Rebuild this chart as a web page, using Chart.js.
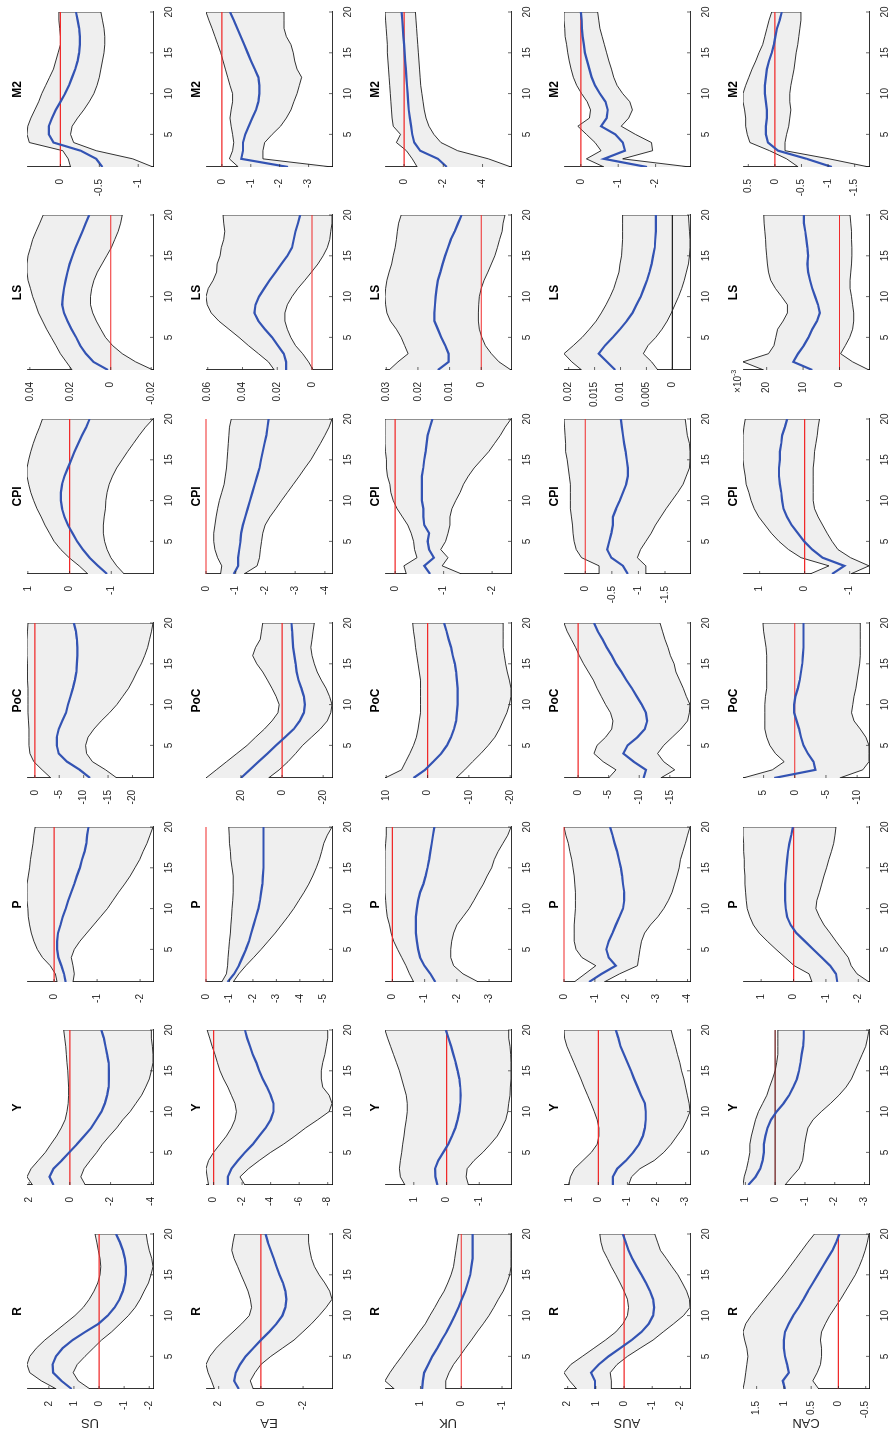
<!DOCTYPE html>
<html>
<head>
<meta charset="utf-8">
<script src="https://cdn.jsdelivr.net/npm/chart.js@4.4.1/dist/chart.umd.min.js"></script>
<style>
html, body { margin: 0; padding: 0; background: #fff; overflow: hidden; }
body { width: 892px; height: 1449px; position: relative; }
/* figure is laid out landscape, then turned a quarter left like the source */
#fig { position: absolute; left: 0; top: 0; width: 1449px; height: 892px;
       transform-origin: 0 0; transform: translate(0, 1449px) rotate(-90deg); }
.cell { position: absolute; }
</style>
</head>
<body>
<div id="fig"></div>
<script>
// ==========================================
// IRF grid: 5 economies x 7 variables
// mid = median response, hi/lo = band edges
// ==========================================

const HORIZON = [1,2,3,4,5,6,7,8,9,10,11,12,13,14,15,16,17,18,19,20];
const HORIZON_TICKS = [5, 10, 15, 20];
const COUNTRIES = ['US', 'EA', 'UK', 'AUS', 'CAN'];
const VARIABLES = ['R', 'Y', 'P', 'PoC', 'CPI', 'LS', 'M2'];

// --- US ---
const US_R_MID = [1.09,1.5,1.83,1.85,1.72,1.45,1.05,0.55,0.02,-0.35,-0.62,-0.82,-0.95,-1.03,-1.07,-1.07,-1.03,-0.95,-0.83,-0.68];
const US_R_HI  = [1.7,2.3,2.76,2.87,2.76,2.5,2.16,1.76,1.36,0.96,0.63,0.39,0.2,0.05,-0.04,-0.07,-0.04,0.03,0.09,0.16];
const US_R_LO  = [0.36,0.83,1.03,0.87,0.56,0.23,-0.1,-0.5,-0.84,-1.17,-1.44,-1.64,-1.8,-1.97,-2.07,-2.15,-2.1,-2.0,-1.93,-1.88];
const US_Y_MID = [0.8,1.0,0.8,0.4,0.03,-0.35,-0.7,-1.05,-1.3,-1.55,-1.72,-1.83,-1.9,-1.92,-1.92,-1.9,-1.83,-1.75,-1.67,-1.55];
const US_Y_HI  = [1.83,2.1,1.9,1.55,1.2,0.93,0.65,0.42,0.23,0.14,0.08,0.06,0.06,0.08,0.1,0.14,0.17,0.2,0.25,0.3];
const US_Y_LO  = [-0.76,-0.54,-0.7,-1.0,-1.32,-1.6,-1.94,-2.3,-2.6,-2.96,-3.24,-3.52,-3.72,-3.9,-4.0,-4.08,-4.08,-4.05,-4.0,-4.0];
const US_P_MID = [-0.27,-0.23,-0.17,-0.1,-0.07,-0.07,-0.09,-0.15,-0.2,-0.27,-0.33,-0.4,-0.47,-0.53,-0.6,-0.65,-0.71,-0.75,-0.77,-0.8];
const US_P_HI  = [-0.07,-0.03,0.09,0.27,0.39,0.47,0.53,0.57,0.6,0.61,0.63,0.63,0.63,0.6,0.57,0.55,0.52,0.49,0.47,0.44];
const US_P_LO  = [-0.44,-0.47,-0.44,-0.4,-0.47,-0.6,-0.76,-0.92,-1.08,-1.24,-1.37,-1.5,-1.64,-1.77,-1.88,-1.99,-2.07,-2.16,-2.23,-2.3];
const US_POC_MID = [-11.3,-9.2,-6.6,-4.9,-4.5,-4.5,-4.9,-5.6,-6.4,-6.8,-7.3,-7.8,-8.2,-8.5,-8.6,-8.7,-8.7,-8.6,-8.4,-8.0];
const US_POC_HI  = [-3.3,-1.5,0.2,1.0,1.2,1.2,1.2,1.3,1.4,1.4,1.4,1.4,1.5,1.5,1.5,1.6,1.6,1.6,1.5,1.4];
const US_POC_LO  = [-16.8,-14.5,-11.8,-10.6,-10.4,-10.9,-12.1,-13.6,-15.3,-16.8,-18.0,-19.2,-20.1,-20.9,-21.8,-22.5,-23.1,-23.5,-23.9,-24.2];
const US_CPI_MID = [-0.9,-0.68,-0.48,-0.32,-0.18,-0.07,0.04,0.12,0.18,0.21,0.21,0.18,0.12,0.04,-0.04,-0.12,-0.21,-0.3,-0.4,-0.48];
const US_CPI_HI  = [-0.44,-0.23,0.01,0.21,0.37,0.48,0.59,0.68,0.78,0.86,0.93,0.98,1.02,1.02,0.98,0.93,0.87,0.8,0.72,0.65];
const US_CPI_LO  = [-1.31,-1.13,-0.99,-0.9,-0.84,-0.81,-0.81,-0.83,-0.86,-0.87,-0.9,-0.95,-1.03,-1.13,-1.26,-1.39,-1.53,-1.67,-1.82,-2.0];
const US_LS_MID = [0.0014,0.0086,0.0123,0.0151,0.0171,0.0194,0.0214,0.0231,0.024,0.0237,0.0231,0.0223,0.0214,0.0203,0.0189,0.0174,0.0157,0.014,0.0123,0.0106];
const US_LS_HI  = [0.0191,0.022,0.0249,0.0271,0.0294,0.0317,0.0337,0.0357,0.0371,0.0386,0.0397,0.0409,0.0414,0.0414,0.0409,0.0397,0.0386,0.0369,0.0351,0.0334];
const US_LS_LO  = [-0.0209,-0.0123,-0.0057,-0.0009,0.0026,0.0049,0.0071,0.0089,0.01,0.01,0.0094,0.0083,0.0066,0.0043,0.002,-0.0003,-0.002,-0.0037,-0.0049,-0.0057];
const US_M2_MID = [-0.54,-0.46,-0.26,0.09,0.15,0.15,0.11,0.06,0.0,-0.06,-0.11,-0.15,-0.19,-0.22,-0.24,-0.25,-0.25,-0.24,-0.22,-0.2];
const US_M2_HI  = [-0.13,-0.1,-0.03,0.4,0.43,0.42,0.38,0.33,0.28,0.24,0.19,0.14,0.09,0.06,0.03,0.0,0.0,0.01,0.02,0.02];
const US_M2_LO  = [-1.19,-0.93,-0.46,-0.17,-0.13,-0.15,-0.22,-0.3,-0.37,-0.43,-0.47,-0.5,-0.52,-0.54,-0.56,-0.57,-0.57,-0.56,-0.54,-0.52];

// --- EA ---
const EA_R_MID = [1.05,1.27,1.19,0.99,0.72,0.36,0.0,-0.39,-0.74,-1.02,-1.16,-1.21,-1.16,-1.05,-0.88,-0.74,-0.61,-0.47,-0.33,-0.22];
const EA_R_HI  = [2.2,2.34,2.5,2.6,2.42,2.12,1.74,1.32,0.91,0.55,0.44,0.5,0.61,0.77,0.94,1.1,1.27,1.38,1.32,1.24];
const EA_R_LO  = [0.36,0.5,0.28,0.0,-0.47,-1.02,-1.57,-1.99,-2.4,-2.76,-3.09,-3.37,-3.26,-3.03,-2.76,-2.54,-2.4,-2.32,-2.26,-2.26];
const EA_Y_MID = [-1.0,-1.0,-1.25,-1.7,-2.2,-2.75,-3.2,-3.65,-4.0,-4.2,-4.2,-4.0,-3.75,-3.45,-3.2,-3.0,-2.75,-2.55,-2.35,-2.2];
const EA_Y_HI  = [0.35,0.45,0.53,0.35,0.0,-0.45,-0.9,-1.25,-1.5,-1.6,-1.5,-1.25,-1.0,-0.7,-0.45,-0.27,-0.1,0.1,0.27,0.45];
const EA_Y_LO  = [-2.2,-1.85,-2.45,-3.2,-4.0,-4.9,-5.7,-6.45,-7.3,-8.1,-8.3,-8.1,-7.65,-7.55,-7.55,-7.65,-7.8,-7.9,-8.0,-8.0];
const EA_P_MID = [-0.92,-1.2,-1.4,-1.55,-1.7,-1.83,-1.93,-2.03,-2.13,-2.23,-2.3,-2.35,-2.4,-2.42,-2.45,-2.45,-2.45,-2.45,-2.45,-2.45];
const EA_P_HI  = [-0.67,-0.87,-0.92,-0.94,-0.97,-1.0,-1.04,-1.06,-1.09,-1.11,-1.14,-1.16,-1.16,-1.16,-1.11,-1.06,-1.04,-1.0,-0.99,-0.97];
const EA_P_LO  = [-1.16,-1.4,-1.7,-2.03,-2.35,-2.65,-2.95,-3.22,-3.49,-3.74,-3.96,-4.18,-4.38,-4.55,-4.7,-4.83,-4.93,-5.02,-5.17,-5.37];
const EA_POC_MID = [20,15.7,11.4,7.1,2.9,-1.4,-5.7,-8.6,-10.6,-11.1,-10.6,-9.4,-8.0,-7.1,-6.6,-6.0,-5.4,-5.1,-4.9,-4.6];
const EA_POC_HI  = [37,32,27,22,17,12.9,8.6,4.9,2.0,1.4,2.9,4.9,7.1,9.4,12.3,14.3,12.9,10.6,10.0,9.4];
const EA_POC_LO  = [6.6,1.4,-2.9,-6.6,-10,-14.3,-18.6,-22,-23.7,-24.3,-23.1,-21.4,-19.1,-17.1,-15.7,-14.6,-14,-14.6,-15.1,-15.7];
const EA_CPI_MID = [-0.93,-1.08,-1.08,-1.12,-1.16,-1.18,-1.24,-1.32,-1.4,-1.48,-1.56,-1.64,-1.72,-1.8,-1.85,-1.91,-1.97,-2.03,-2.07,-2.11];
const EA_CPI_HI  = [-0.49,-0.53,-0.39,-0.3,-0.26,-0.26,-0.3,-0.34,-0.39,-0.45,-0.53,-0.61,-0.65,-0.69,-0.71,-0.73,-0.75,-0.77,-0.79,-0.85];
const EA_CPI_LO  = [-1.28,-1.72,-1.8,-1.83,-1.87,-1.91,-1.99,-2.15,-2.35,-2.54,-2.74,-2.94,-3.14,-3.33,-3.53,-3.69,-3.85,-4.0,-4.14,-4.24];
const EA_LS_MID = [0.0149,0.0149,0.0163,0.0197,0.023,0.0271,0.0308,0.0332,0.0325,0.0305,0.0275,0.0244,0.021,0.0176,0.0142,0.0115,0.0105,0.0095,0.0081,0.0068];
const EA_LS_HI  = [0.0217,0.0251,0.0308,0.0366,0.042,0.0478,0.0536,0.058,0.0603,0.061,0.0597,0.0569,0.0549,0.0546,0.0529,0.0522,0.0508,0.0502,0.0508,0.0512];
const EA_LS_LO  = [-0.0007,0.002,0.0054,0.0095,0.0122,0.0142,0.0156,0.0156,0.0142,0.0115,0.0081,0.0041,0.0003,-0.0034,-0.0064,-0.0088,-0.0102,-0.0108,-0.0115,-0.0115];
const EA_M2_MID = [-2.29,-0.67,-0.73,-0.73,-0.81,-0.93,-1.05,-1.18,-1.26,-1.3,-1.3,-1.26,-1.14,-1.01,-0.89,-0.77,-0.65,-0.53,-0.41,-0.28];
const EA_M2_HI  = [-0.57,-0.26,-0.37,-0.41,-0.37,-0.32,-0.28,-0.32,-0.37,-0.37,-0.28,-0.2,-0.12,-0.04,0.04,0.14,0.24,0.34,0.45,0.55];
const EA_M2_LO  = [-3.81,-1.42,-1.42,-1.48,-1.74,-2.03,-2.23,-2.39,-2.49,-2.6,-2.68,-2.76,-2.6,-2.52,-2.47,-2.39,-2.23,-2.15,-2.15,-2.15];

// --- UK ---
const UK_R_MID = [0.96,0.94,0.91,0.81,0.71,0.59,0.48,0.36,0.26,0.16,0.07,-0.01,-0.1,-0.16,-0.22,-0.25,-0.28,-0.28,-0.28,-0.28];
const UK_R_HI  = [1.64,1.87,1.75,1.61,1.46,1.32,1.17,1.03,0.88,0.77,0.65,0.54,0.42,0.33,0.25,0.19,0.16,0.13,0.1,0.07];
const UK_R_LO  = [0.38,0.38,0.3,0.19,0.04,-0.1,-0.25,-0.39,-0.54,-0.68,-0.8,-0.91,-1.03,-1.12,-1.19,-1.22,-1.22,-1.22,-1.22,-1.22];
const UK_Y_MID = [0.28,0.34,0.35,0.25,0.1,-0.05,-0.17,-0.27,-0.34,-0.39,-0.42,-0.43,-0.42,-0.39,-0.34,-0.28,-0.21,-0.14,-0.06,0.02];
const UK_Y_HI  = [1.27,1.41,1.44,1.41,1.37,1.34,1.3,1.27,1.23,1.2,1.2,1.23,1.3,1.37,1.44,1.53,1.62,1.71,1.8,1.88];
const UK_Y_LO  = [-0.67,-0.6,-0.63,-0.84,-1.11,-1.34,-1.55,-1.69,-1.81,-1.87,-1.9,-1.94,-1.95,-1.97,-1.97,-1.97,-1.96,-1.94,-1.9,-1.9];
const UK_P_MID = [-1.33,-1.18,-0.99,-0.86,-0.8,-0.76,-0.73,-0.73,-0.73,-0.76,-0.8,-0.86,-0.96,-1.03,-1.09,-1.14,-1.18,-1.22,-1.26,-1.3];
const UK_P_HI  = [-0.66,-0.53,-0.42,-0.29,-0.16,-0.04,0.04,0.09,0.16,0.19,0.21,0.23,0.23,0.23,0.23,0.23,0.23,0.21,0.19,0.19];
const UK_P_LO  = [-2.67,-2.19,-1.9,-1.81,-1.81,-1.84,-1.9,-2.0,-2.19,-2.38,-2.53,-2.67,-2.82,-2.94,-3.08,-3.16,-3.28,-3.43,-3.58,-3.68];
const UK_POC_MID = [3.4,0.6,-1.4,-3.3,-4.7,-5.7,-6.4,-6.9,-7.1,-7.3,-7.3,-7.3,-7.1,-6.9,-6.6,-6.1,-5.7,-5.1,-4.6,-4.0];
const UK_POC_HI  = [10.3,6.3,5.3,4.3,3.4,2.7,2.3,2.0,1.7,1.7,1.7,1.7,1.7,2.0,2.3,2.6,2.9,3.1,3.4,3.6];
const UK_POC_LO  = [-6.9,-9.0,-10.9,-12.9,-14.7,-16.3,-17.4,-18.3,-19.2,-19.8,-20.2,-20.2,-19.8,-19.3,-18.9,-18.6,-18.3,-18.3,-18.3,-18.3];
const UK_CPI_MID = [-0.72,-0.6,-0.8,-0.7,-0.67,-0.7,-0.6,-0.58,-0.58,-0.55,-0.55,-0.55,-0.55,-0.58,-0.6,-0.63,-0.65,-0.67,-0.72,-0.77];
const UK_CPI_HI  = [-0.23,-0.18,-0.45,-0.4,-0.38,-0.33,-0.26,-0.15,-0.04,0.04,0.09,0.11,0.16,0.18,0.18,0.2,0.21,0.21,0.21,0.21];
const UK_CPI_LO  = [-1.37,-0.97,-1.09,-0.94,-1.04,-1.09,-1.13,-1.13,-1.17,-1.25,-1.34,-1.41,-1.51,-1.63,-1.78,-1.93,-2.05,-2.17,-2.27,-2.39];
const UK_LS_MID = [0.0137,0.0103,0.0103,0.0114,0.0126,0.0137,0.0148,0.0148,0.0146,0.0144,0.0141,0.0137,0.0129,0.0122,0.0114,0.0105,0.0096,0.0084,0.0073,0.0062];
const UK_LS_HI  = [0.0291,0.0263,0.0231,0.0242,0.0253,0.0268,0.0287,0.0298,0.0302,0.0304,0.0302,0.0298,0.0291,0.0283,0.0278,0.0272,0.0268,0.0265,0.0261,0.0253];
const UK_LS_LO  = [-0.0094,-0.0056,-0.0032,-0.0013,-0.0002,0.0006,0.0009,0.0009,0.0008,0.0006,0.0,-0.0009,-0.0021,-0.0032,-0.0043,-0.0051,-0.0058,-0.0066,-0.0069,-0.0075];
const UK_M2_MID = [-2.18,-1.73,-0.82,-0.52,-0.42,-0.36,-0.3,-0.24,-0.21,-0.18,-0.15,-0.12,-0.09,-0.06,-0.03,0.0,0.03,0.06,0.09,0.12];
const UK_M2_HI  = [-0.67,-0.42,-0.12,0.39,0.18,0.55,0.61,0.64,0.67,0.7,0.73,0.76,0.79,0.82,0.85,0.85,0.88,0.91,0.94,0.97];
const UK_M2_LO  = [-5.45,-4.3,-2.73,-1.88,-1.52,-1.27,-1.12,-1.03,-0.97,-0.91,-0.85,-0.82,-0.79,-0.76,-0.73,-0.7,-0.67,-0.64,-0.61,-0.58];

// --- AUS ---
const AUS_R_MID = [1.03,1.03,1.17,0.9,0.55,0.14,-0.27,-0.62,-0.88,-1.03,-1.07,-1.03,-0.92,-0.78,-0.62,-0.45,-0.29,-0.16,-0.06,0.04];
const AUS_R_HI  = [1.68,1.93,2.13,1.89,1.48,1.07,0.66,0.29,0.04,-0.12,-0.16,-0.12,0.0,0.14,0.29,0.45,0.59,0.74,0.82,0.86];
const AUS_R_LO  = [0.45,0.45,0.49,0.25,-0.12,-0.57,-1.03,-1.39,-1.76,-2.11,-2.34,-2.32,-2.22,-2.07,-1.91,-1.7,-1.5,-1.29,-1.19,-1.09];
const AUS_Y_MID = [-0.5,-0.5,-0.65,-0.95,-1.2,-1.4,-1.53,-1.6,-1.63,-1.63,-1.6,-1.47,-1.35,-1.23,-1.12,-1.0,-0.88,-0.76,-0.69,-0.6];
const AUS_Y_HI  = [1.02,0.96,0.82,0.53,0.24,0.04,-0.02,-0.02,0.04,0.14,0.25,0.37,0.49,0.6,0.72,0.84,0.96,1.08,1.16,1.18];
const AUS_Y_LO  = [-1.04,-1.14,-1.43,-1.92,-2.25,-2.5,-2.7,-2.9,-3.04,-3.15,-3.12,-3.06,-3.0,-2.94,-2.86,-2.8,-2.72,-2.65,-2.57,-2.5];
const AUS_P_MID = [-0.81,-1.22,-1.68,-1.45,-1.37,-1.45,-1.57,-1.68,-1.8,-1.91,-1.95,-1.95,-1.91,-1.88,-1.84,-1.78,-1.72,-1.64,-1.57,-1.49];
const AUS_P_HI  = [-0.33,-0.68,-1.03,-0.58,-0.39,-0.33,-0.33,-0.33,-0.35,-0.37,-0.37,-0.37,-0.35,-0.33,-0.29,-0.25,-0.19,-0.14,-0.06,0.0];
const AUS_P_LO  = [-1.3,-1.8,-2.38,-2.42,-2.46,-2.51,-2.61,-2.8,-3.04,-3.23,-3.38,-3.5,-3.58,-3.66,-3.73,-3.77,-3.85,-3.93,-4.0,-4.08];
const AUS_POC_MID = [-10.7,-11.1,-9.1,-7.4,-8.1,-9.7,-10.9,-11.3,-11.1,-10.4,-9.6,-8.8,-7.9,-7.1,-6.2,-5.5,-4.7,-4.0,-3.2,-2.6];
const AUS_POC_HI  = [-5.0,-6.2,-4.1,-2.6,-3.1,-4.5,-5.5,-5.7,-5.3,-4.5,-3.8,-3.1,-2.5,-1.7,-0.9,-0.2,0.4,1.1,1.8,2.3];
const AUS_POC_LO  = [-13.5,-15.8,-14.0,-13.0,-14.0,-15.4,-16.8,-17.9,-18.2,-18.3,-17.7,-17.2,-16.6,-16.0,-15.7,-15.1,-14.7,-14.2,-13.8,-13.4];
const AUS_CPI_MID = [-0.8,-0.71,-0.49,-0.41,-0.45,-0.49,-0.52,-0.52,-0.58,-0.65,-0.71,-0.77,-0.8,-0.8,-0.78,-0.76,-0.73,-0.71,-0.69,-0.67];
const AUS_CPI_HI  = [-0.26,-0.26,0.07,0.17,0.21,0.23,0.24,0.26,0.28,0.28,0.28,0.28,0.3,0.32,0.34,0.37,0.37,0.38,0.39,0.4];
const AUS_CPI_LO  = [-1.14,-1.14,-0.98,-1.04,-1.14,-1.24,-1.32,-1.42,-1.52,-1.63,-1.74,-1.84,-1.9,-1.96,-1.97,-1.97,-1.96,-1.92,-1.9,-1.88];
const AUS_LS_MID = [0.011,0.0126,0.0142,0.013,0.0115,0.0101,0.0088,0.0077,0.0069,0.0061,0.0055,0.0049,0.0044,0.004,0.0037,0.0034,0.0033,0.0032,0.0032,0.0032];
const AUS_LS_HI  = [0.0175,0.0194,0.0209,0.0191,0.0174,0.016,0.0147,0.0137,0.0128,0.012,0.0113,0.0108,0.0103,0.0101,0.0098,0.0097,0.0096,0.0096,0.0096,0.0096];
const AUS_LS_LO  = [0.0028,0.004,0.0056,0.0047,0.0032,0.002,0.001,0.0002,-0.0005,-0.0012,-0.0018,-0.0023,-0.0027,-0.0031,-0.0033,-0.0034,-0.0034,-0.0033,-0.0032,-0.0031];
const AUS_M2_MID = [-1.77,-0.62,-1.18,-1.12,-0.92,-0.54,-0.69,-0.72,-0.66,-0.51,-0.38,-0.29,-0.23,-0.17,-0.11,-0.08,-0.05,-0.03,-0.02,0.0];
const AUS_M2_HI  = [-0.62,-0.15,-0.54,-0.38,-0.15,0.08,-0.23,-0.26,-0.17,-0.02,0.11,0.2,0.26,0.31,0.35,0.38,0.42,0.43,0.45,0.45];
const AUS_M2_LO  = [-2.92,-1.12,-1.92,-1.89,-1.46,-1.08,-1.28,-1.38,-1.31,-1.12,-0.97,-0.88,-0.82,-0.75,-0.69,-0.63,-0.57,-0.51,-0.48,-0.45];

// --- CAN ---
const CAN_R_MID = [0.98,1.02,0.91,0.94,0.98,1.0,1.0,0.98,0.91,0.83,0.73,0.64,0.56,0.47,0.38,0.29,0.2,0.11,0.04,-0.02];
const CAN_R_HI  = [1.75,1.72,1.7,1.68,1.66,1.68,1.72,1.75,1.7,1.6,1.48,1.36,1.24,1.12,1.0,0.89,0.78,0.67,0.56,0.44];
const CAN_R_LO  = [0.36,0.47,0.39,0.33,0.31,0.31,0.33,0.31,0.24,0.16,0.06,-0.04,-0.13,-0.22,-0.31,-0.38,-0.44,-0.49,-0.53,-0.56];
const CAN_Y_MID = [0.9,0.66,0.5,0.42,0.38,0.38,0.33,0.26,0.14,-0.05,-0.28,-0.47,-0.61,-0.73,-0.8,-0.85,-0.89,-0.94,-0.96,-0.96];
const CAN_Y_HI  = [1.08,1.04,0.96,0.9,0.85,0.85,0.8,0.73,0.66,0.56,0.42,0.28,0.19,0.09,0.0,-0.05,-0.09,-0.09,-0.09,-0.09];
const CAN_Y_LO  = [-0.33,-0.56,-0.8,-0.92,-0.96,-0.99,-1.04,-1.1,-1.27,-1.55,-1.86,-2.14,-2.38,-2.56,-2.68,-2.8,-2.92,-3.04,-3.1,-3.15];
const CAN_P_MID = [-1.35,-1.31,-1.13,-0.87,-0.61,-0.35,-0.09,0.09,0.2,0.24,0.26,0.26,0.26,0.24,0.22,0.2,0.17,0.13,0.07,0.02];
const CAN_P_HI  = [-0.57,-0.48,-0.02,0.26,0.54,0.81,1.06,1.24,1.35,1.43,1.46,1.48,1.5,1.5,1.52,1.52,1.54,1.54,1.56,1.56];
const CAN_P_LO  = [-2.33,-1.96,-1.78,-1.69,-1.5,-1.31,-1.13,-0.94,-0.8,-0.69,-0.72,-0.8,-0.87,-0.94,-1.02,-1.09,-1.17,-1.24,-1.28,-1.31];
const CAN_POC_MID = [3.3,-3.3,-3.0,-2.1,-1.4,-1.0,-0.7,-0.3,0.1,0.1,-0.1,-0.5,-0.8,-1.0,-1.2,-1.3,-1.4,-1.4,-1.4,-1.4];
const CAN_POC_HI  = [8.3,3.6,1.7,3.1,4.0,4.5,4.8,4.8,4.8,4.8,4.7,4.5,4.5,4.5,4.5,4.5,4.6,4.8,5.0,5.1];
const CAN_POC_LO  = [-7.2,-10.9,-11.9,-11.9,-11.9,-11.4,-10.5,-9.5,-9.1,-9.3,-9.5,-9.8,-10.0,-10.2,-10.4,-10.5,-10.5,-10.5,-10.5,-10.5];
const CAN_CPI_MID = [-0.61,-0.88,-0.4,-0.17,0.01,0.15,0.29,0.39,0.47,0.5,0.52,0.55,0.57,0.57,0.55,0.55,0.52,0.5,0.44,0.39];
const CAN_CPI_HI  = [-0.12,-0.54,0.08,0.36,0.57,0.74,0.88,1.02,1.12,1.19,1.24,1.3,1.32,1.35,1.37,1.37,1.37,1.37,1.35,1.32];
const CAN_CPI_LO  = [-1.02,-1.43,-1.02,-0.74,-0.61,-0.5,-0.4,-0.3,-0.22,-0.19,-0.19,-0.19,-0.19,-0.19,-0.21,-0.22,-0.25,-0.28,-0.3,-0.33];
const CAN_LS_MID = [0.0075,0.0127,0.0114,0.0098,0.0085,0.0075,0.0062,0.0054,0.0059,0.0067,0.0075,0.0081,0.0086,0.0088,0.0086,0.0088,0.0091,0.0094,0.0098,0.0098];
const CAN_LS_HI  = [0.0208,0.0265,0.0195,0.018,0.0175,0.017,0.0155,0.0143,0.0143,0.0159,0.0176,0.0189,0.0195,0.0198,0.02,0.0202,0.0203,0.0205,0.0207,0.0208];
const CAN_LS_LO  = [-0.0081,-0.0036,-0.0003,-0.0016,-0.0028,-0.0036,-0.0039,-0.0039,-0.0036,-0.0033,-0.0029,-0.0029,-0.0031,-0.0033,-0.0034,-0.0034,-0.0033,-0.0033,-0.0031,-0.0029];
const CAN_M2_MID = [-1.07,-0.6,-0.06,0.13,0.17,0.17,0.15,0.15,0.17,0.19,0.19,0.17,0.15,0.11,0.06,0.02,-0.01,-0.04,-0.09,-0.13];
const CAN_M2_HI  = [-0.44,-0.22,0.1,0.47,0.52,0.55,0.55,0.57,0.6,0.6,0.55,0.49,0.43,0.36,0.3,0.23,0.19,0.15,0.11,0.06];
const CAN_M2_LO  = [-1.77,-1.02,-0.19,-0.19,-0.22,-0.26,-0.28,-0.3,-0.28,-0.28,-0.3,-0.33,-0.36,-0.38,-0.4,-0.43,-0.45,-0.47,-0.49,-0.49];

// --- value-axis tick labels, one list per variable (R, Y, P, PoC, CPI, LS, M2) ---
const US_TICKS  = [[2,1,0,-1,-2], [2,0,-2,-4], [0,-1,-2], [0,-5,-10,-15,-20], [1,0,-1], [0.04,0.02,0,-0.02], [0,-0.5,-1]];
const EA_TICKS  = [[2,0,-2], [0,-2,-4,-6,-8], [0,-1,-2,-3,-4,-5], [20,0,-20], [0,-1,-2,-3,-4], [0.06,0.04,0.02,0], [0,-1,-2,-3]];
const UK_TICKS  = [[1,0,-1], [1,0,-1], [0,-1,-2,-3], [10,0,-10,-20], [0,-1,-2], [0.03,0.02,0.01,0], [0,-2,-4]];
const AUS_TICKS = [[2,1,0,-1,-2], [1,0,-1,-2,-3], [0,-1,-2,-3,-4], [0,-5,-10,-15], [0,-0.5,-1,-1.5], [0.02,0.015,0.01,0.005,0], [0,-1,-2]];
const CAN_TICKS = [[1.5,1,0.5,0,-0.5], [1,0,-1,-2,-3], [1,0,-1,-2], [5,0,-5,-10], [1,0,-1], [0.02,0.01,0], [0.5,0,-0.5,-1,-1.5]];

// --- look-up built from the arrays above ---
const SERIES = {
    US:  [[US_R_MID,US_R_HI,US_R_LO],[US_Y_MID,US_Y_HI,US_Y_LO],[US_P_MID,US_P_HI,US_P_LO],[US_POC_MID,US_POC_HI,US_POC_LO],[US_CPI_MID,US_CPI_HI,US_CPI_LO],[US_LS_MID,US_LS_HI,US_LS_LO],[US_M2_MID,US_M2_HI,US_M2_LO]],
    EA:  [[EA_R_MID,EA_R_HI,EA_R_LO],[EA_Y_MID,EA_Y_HI,EA_Y_LO],[EA_P_MID,EA_P_HI,EA_P_LO],[EA_POC_MID,EA_POC_HI,EA_POC_LO],[EA_CPI_MID,EA_CPI_HI,EA_CPI_LO],[EA_LS_MID,EA_LS_HI,EA_LS_LO],[EA_M2_MID,EA_M2_HI,EA_M2_LO]],
    UK:  [[UK_R_MID,UK_R_HI,UK_R_LO],[UK_Y_MID,UK_Y_HI,UK_Y_LO],[UK_P_MID,UK_P_HI,UK_P_LO],[UK_POC_MID,UK_POC_HI,UK_POC_LO],[UK_CPI_MID,UK_CPI_HI,UK_CPI_LO],[UK_LS_MID,UK_LS_HI,UK_LS_LO],[UK_M2_MID,UK_M2_HI,UK_M2_LO]],
    AUS: [[AUS_R_MID,AUS_R_HI,AUS_R_LO],[AUS_Y_MID,AUS_Y_HI,AUS_Y_LO],[AUS_P_MID,AUS_P_HI,AUS_P_LO],[AUS_POC_MID,AUS_POC_HI,AUS_POC_LO],[AUS_CPI_MID,AUS_CPI_HI,AUS_CPI_LO],[AUS_LS_MID,AUS_LS_HI,AUS_LS_LO],[AUS_M2_MID,AUS_M2_HI,AUS_M2_LO]],
    CAN: [[CAN_R_MID,CAN_R_HI,CAN_R_LO],[CAN_Y_MID,CAN_Y_HI,CAN_Y_LO],[CAN_P_MID,CAN_P_HI,CAN_P_LO],[CAN_POC_MID,CAN_POC_HI,CAN_POC_LO],[CAN_CPI_MID,CAN_CPI_HI,CAN_CPI_LO],[CAN_LS_MID,CAN_LS_HI,CAN_LS_LO],[CAN_M2_MID,CAN_M2_HI,CAN_M2_LO]],
};
const TICKS = { US: US_TICKS, EA: EA_TICKS, UK: UK_TICKS, AUS: AUS_TICKS, CAN: CAN_TICKS };

// --- layout (landscape figure before the turn) ---
const PLOT_W = 155, PLOT_H = 126;
const COL_X0 = 60, COL_STEP = 203.7;
const ROW_Y0 = 27, ROW_STEP = 179;
const AX_W = 48, AX_H = 20, PAD_T = 22, PAD_R = 10;

const FONT = '"Liberation Sans", Arial, Helvetica, sans-serif';
const INK = '#262626';
const BLUE = '#3353b3';
const RED = '#f02a2a';
const BAND = '#efefef';

// zero lines that come out dark in the source
const ZERO_COLOR = { 'CAN-Y': '#6b1a1a', 'AUS-LS': '#222222' };

function fmtTick(v) {
    return String(parseFloat(v.toFixed(4)));
}

function pts(arr) {
    return HORIZON.map((h, k) => ({ x: h, y: arr[k] }));
}

// --- decorations: inward ticks, titles, row labels ---
const matlabDecor = {
    id: 'matlabDecor',
    afterDraw(chart, args, o) {
        const { ctx, chartArea: a, scales: { x, y } } = chart;
        ctx.save();
        ctx.strokeStyle = INK;
        ctx.lineWidth = 0.7;
        ctx.beginPath();
        x.ticks.forEach(t => {
            const px = x.getPixelForValue(t.value);
            ctx.moveTo(px, a.bottom); ctx.lineTo(px, a.bottom - 3);
        });
        y.ticks.forEach(t => {
            const py = y.getPixelForValue(t.value);
            ctx.moveTo(a.left, py); ctx.lineTo(a.left + 3, py);
        });
        ctx.stroke();

        ctx.fillStyle = '#000';
        ctx.font = 'bold 12px ' + FONT;
        ctx.textAlign = 'center';
        ctx.textBaseline = 'middle';
        ctx.fillText(o.title, (a.left + a.right) / 2, a.top - 9);

        if (o.ylabel) {
            ctx.save();
            ctx.translate(14, (a.top + a.bottom) / 2);
            ctx.rotate(-Math.PI / 2);
            ctx.fillStyle = INK;
            ctx.font = '13px ' + FONT;
            ctx.fillText(o.ylabel, 0, 0);
            ctx.restore();
        }
        if (o.exponent) {
            ctx.fillStyle = INK;
            ctx.textAlign = 'right';
            ctx.textBaseline = 'alphabetic';
            ctx.font = '10px ' + FONT;
            ctx.fillText('×10', a.left - 6, a.top - 2);
            ctx.font = '7px ' + FONT;
            ctx.textAlign = 'left';
            ctx.fillText('-3', a.left - 6, a.top - 7);
        }
        ctx.restore();
    }
};

function makePanel(ci, vi) {
    const country = COUNTRIES[ci], variable = VARIABLES[vi];
    const [mid, hi, lo] = SERIES[country][vi];
    const ticks = TICKS[country][vi];
    const scaleK = (country === 'CAN' && variable === 'LS') ? 1000 : 1;

    const yMin = Math.min(...lo, 0, ...ticks);
    const yMax = Math.max(...hi, 0, ...ticks);

    const left = COL_X0 + vi * COL_STEP - AX_W;
    const top = ROW_Y0 + ci * ROW_STEP - PAD_T;
    const w = AX_W + PLOT_W + PAD_R, h = PAD_T + PLOT_H + AX_H;

    const cell = document.createElement('div');
    cell.className = 'cell';
    cell.style.left = left + 'px';
    cell.style.top = top + 'px';
    cell.style.width = w + 'px';
    cell.style.height = h + 'px';
    const cv = document.createElement('canvas');
    cv.width = w; cv.height = h;
    cv.style.width = w + 'px'; cv.style.height = h + 'px';
    cell.appendChild(cv);
    document.getElementById('fig').appendChild(cell);

    const zeroCol = ZERO_COLOR[country + '-' + variable] || RED;
    const lineBase = { pointRadius: 0, tension: 0, fill: false };

    new Chart(cv, {
        type: 'line',
        data: {
            datasets: [
                { ...lineBase, data: pts(mid), borderColor: BLUE, borderWidth: 2.2, order: 0 },
                { ...lineBase, data: pts(HORIZON.map(() => 0)), borderColor: zeroCol, borderWidth: 1.2,
                  order: 1, clip: 2 },
                { ...lineBase, data: pts(hi), borderColor: '#000', borderWidth: 0.8, order: 2,
                  fill: '+1', backgroundColor: BAND },
                { ...lineBase, data: pts(lo), borderColor: '#000', borderWidth: 0.8, order: 3 },
                { ...lineBase, data: [{ x: 20, y: lo[19] }, { x: 20, y: hi[19] }],
                  borderColor: '#000', borderWidth: 0.8, order: 4 },
            ]
        },
        options: {
            responsive: false,
            maintainAspectRatio: false,
            animation: false,
            events: [],
            layout: { padding: { top: PAD_T, right: PAD_R, left: 0, bottom: 0 } },
            plugins: {
                legend: { display: false },
                tooltip: { enabled: false },
                filler: { drawTime: 'beforeDatasetsDraw' },
                matlabDecor: {
                    title: variable,
                    ylabel: vi === 0 ? country : null,
                    exponent: scaleK !== 1,
                },
            },
            scales: {
                x: {
                    type: 'linear', min: 1, max: 20, bounds: 'data',
                    grid: { display: false },
                    border: { display: true, color: '#000', width: 0.8 },
                    afterBuildTicks: s => { s.ticks = HORIZON_TICKS.map(v => ({ value: v })); },
                    afterFit: s => { s.height = AX_H; },
                    ticks: { color: INK, font: { family: FONT, size: 10 }, padding: 2,
                             maxRotation: 0, autoSkip: false },
                },
                y: {
                    type: 'linear', min: yMin, max: yMax, bounds: 'data',
                    grid: { display: false },
                    border: { display: true, color: '#000', width: 0.8 },
                    afterBuildTicks: s => {
                        s.ticks = ticks.filter(v => v >= yMin && v <= yMax).map(v => ({ value: v }));
                    },
                    afterFit: s => { s.width = AX_W; },
                    ticks: { color: INK, font: { family: FONT, size: 10 }, padding: 4, autoSkip: false,
                             callback: v => fmtTick(v * scaleK) },
                },
            },
        },
        plugins: [matlabDecor],
    });
}

COUNTRIES.forEach((c, ci) => VARIABLES.forEach((v, vi) => makePanel(ci, vi)));
</script>
</body>
</html>
